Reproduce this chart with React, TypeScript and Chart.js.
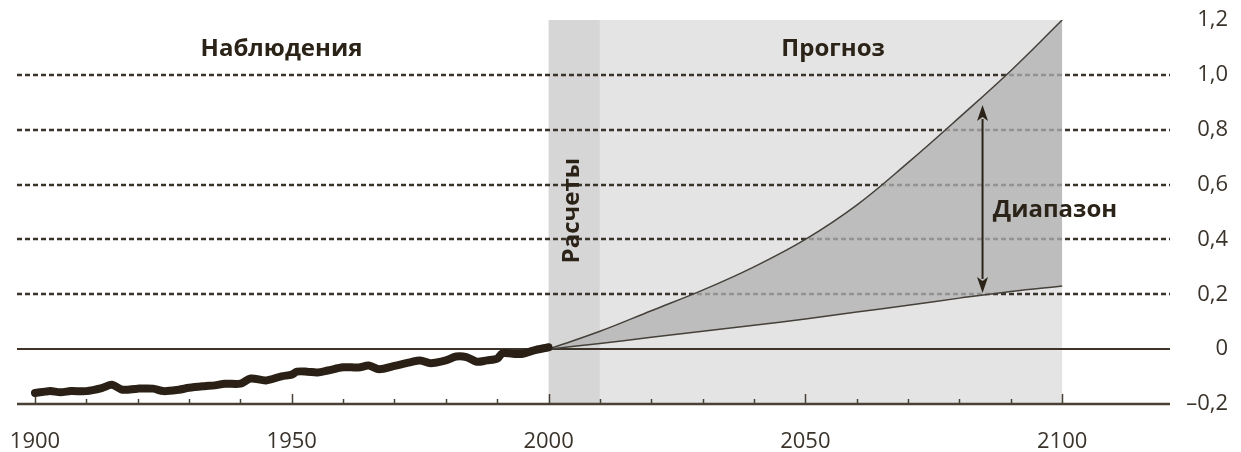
import React, { useEffect, useRef } from 'react';
import { Chart, registerables } from 'chart.js';

Chart.register(...registerables);

// Observed anomaly (°C), 1900–2000
const OBS_YEARS = [
  1900, 1902, 1903, 1905, 1907, 1910, 1913, 1915, 1917, 1920, 1923, 1925, 1928, 1930,
  1933, 1935, 1937, 1940, 1942, 1945, 1948, 1950, 1951, 1953, 1955, 1957, 1960, 1963,
  1965, 1967, 1970, 1973, 1975, 1977, 1980, 1982, 1984, 1986, 1988, 1990, 1991, 1993,
  1995, 1997, 2000,
];
const OBS_VALUES = [
  -0.16, -0.155, -0.153, -0.157, -0.153, -0.153, -0.142, -0.13, -0.148, -0.144, -0.144,
  -0.153, -0.148, -0.141, -0.135, -0.132, -0.126, -0.126, -0.107, -0.114, -0.099, -0.093,
  -0.082, -0.082, -0.085, -0.078, -0.066, -0.067, -0.06, -0.073, -0.061, -0.048, -0.041,
  -0.051, -0.041, -0.027, -0.029, -0.046, -0.041, -0.035, -0.015, -0.017, -0.017, -0.005,
  0.007,
];

// Projection range, 2000–2100
const PROJ_YEARS = [2000, 2010, 2020, 2030, 2040, 2050, 2060, 2070, 2080, 2090, 2100];
const PROJ_HIGH = [0, 0.065, 0.14, 0.215, 0.3, 0.4, 0.525, 0.68, 0.845, 1.015, 1.2];
const PROJ_LOW = [0, 0.021, 0.043, 0.065, 0.087, 0.11, 0.135, 0.16, 0.186, 0.21, 0.23];

// Axes
const X_RANGE = [1896.5, 2121];
const Y_RANGE = [-0.2, 1.2];
const X_TICKS = [1900, 1950, 2000, 2050, 2100];
const X_TICK_LABELS = ['1900', '1950', '2000', '2050', '2100'];
const X_MINOR_TICKS = [1900, 1910, 1920, 1930, 1940, 1950, 1960, 1970, 1980, 1990, 2000,
  2010, 2020, 2030, 2040, 2050, 2060, 2070, 2080, 2090, 2100];
const Y_TICKS = [-0.2, 0, 0.2, 0.4, 0.6, 0.8, 1.0, 1.2];
const Y_TICK_LABELS = ['–0,2', '0', '0,2', '0,4', '0,6', '0,8', '1,0', '1,2'];
const DOTTED_LEVELS = [0.2, 0.4, 0.6, 0.8, 1.0];

// Shaded periods
const PERIOD_FROM = [2000, 2010];
const PERIOD_TO = [2010, 2100];
const PERIOD_COLORS = ['#d6d6d6', '#e4e4e4'];

// Annotations (data units)
const TEXT_LABELS = ['Наблюдения', 'Прогноз', 'Диапазон'];
const TEXT_YEARS = [1948, 2055.4, 2086.5];
const TEXT_VALUES = [1.094, 1.094, 0.506];
const TEXT_ALIGN: CanvasTextAlign[] = ['center', 'center', 'left'];
const ROTATED_LABEL = 'Расчеты';
const ROTATED_YEAR = 2004.6;
const ROTATED_VALUE = 0.505;
const ARROW_YEAR = 2084.5;
const ARROW_FROM = 0.205;
const ARROW_TO = 0.89;

const INK = '#2b2218';
const FONT = "'Open Sans', sans-serif";

const decorPlugin = {
  id: 'decor',
  beforeDatasetsDraw(chart: any) {
    const { ctx, chartArea: ca, scales } = chart;
    const x = scales.x;
    const y = scales.y;
    ctx.save();
    const yTop = y.getPixelForValue(Y_RANGE[1]);
    const yBot = y.getPixelForValue(Y_RANGE[0]);
    PERIOD_FROM.forEach((f, i) => {
      const x0 = x.getPixelForValue(f);
      const x1 = x.getPixelForValue(PERIOD_TO[i]);
      ctx.fillStyle = PERIOD_COLORS[i];
      ctx.fillRect(x0, yTop, x1 - x0, yBot - yTop);
    });
    // dotted grid
    ctx.strokeStyle = '#3a332a';
    ctx.lineWidth = 2.5;
    ctx.setLineDash([5, 3]);
    DOTTED_LEVELS.forEach((v) => {
      const py = Math.round(y.getPixelForValue(v));
      ctx.beginPath();
      ctx.moveTo(ca.left, py);
      ctx.lineTo(ca.right, py);
      ctx.stroke();
    });
    ctx.setLineDash([]);
    // zero line
    const pz = Math.round(y.getPixelForValue(0));
    ctx.strokeStyle = '#3d3329';
    ctx.lineWidth = 2;
    ctx.beginPath();
    ctx.moveTo(ca.left, pz);
    ctx.lineTo(ca.right, pz);
    ctx.stroke();
    // axis line
    const pa = Math.round(yBot);
    ctx.strokeStyle = '#4a4036';
    ctx.lineWidth = 2.5;
    ctx.beginPath();
    ctx.moveTo(ca.left, pa);
    ctx.lineTo(ca.right, pa);
    ctx.stroke();
    // tick marks
    ctx.lineWidth = 1.5;
    X_MINOR_TICKS.forEach((t) => {
      const px = Math.round(x.getPixelForValue(t)) + 0.5;
      const len = t % 50 === 0 ? 10 : 5;
      ctx.beginPath();
      ctx.moveTo(px, pa);
      ctx.lineTo(px, pa - len);
      ctx.stroke();
    });
    ctx.restore();
  },
  afterDatasetsDraw(chart: any) {
    const { ctx, scales } = chart;
    const x = scales.x;
    const y = scales.y;
    ctx.save();
    // arrow
    const ax = x.getPixelForValue(ARROW_YEAR);
    const a0 = y.getPixelForValue(ARROW_FROM);
    const a1 = y.getPixelForValue(ARROW_TO);
    const head = 16;
    const hw = 5.5;
    ctx.strokeStyle = INK;
    ctx.fillStyle = INK;
    ctx.lineWidth = 2;
    ctx.beginPath();
    ctx.moveTo(ax, a1 + head - 2);
    ctx.lineTo(ax, a0 - head + 2);
    ctx.stroke();
    ctx.beginPath();
    ctx.moveTo(ax, a1);
    ctx.lineTo(ax - hw, a1 + head);
    ctx.lineTo(ax, a1 + head - 4);
    ctx.lineTo(ax + hw, a1 + head);
    ctx.closePath();
    ctx.fill();
    ctx.beginPath();
    ctx.moveTo(ax, a0);
    ctx.lineTo(ax - hw, a0 - head);
    ctx.lineTo(ax, a0 - head + 4);
    ctx.lineTo(ax + hw, a0 - head);
    ctx.closePath();
    ctx.fill();
    // texts
    ctx.font = `bold 24px ${FONT}`;
    ctx.textBaseline = 'middle';
    TEXT_LABELS.forEach((t, i) => {
      ctx.textAlign = TEXT_ALIGN[i];
      ctx.fillText(t, x.getPixelForValue(TEXT_YEARS[i]), y.getPixelForValue(TEXT_VALUES[i]));
    });
    ctx.translate(x.getPixelForValue(ROTATED_YEAR), y.getPixelForValue(ROTATED_VALUE));
    ctx.rotate(-Math.PI / 2);
    ctx.textAlign = 'center';
    ctx.fillText(ROTATED_LABEL, 0, 0);
    ctx.restore();
  },
};

export default function App() {
  const ref = useRef<HTMLCanvasElement | null>(null);
  useEffect(() => {
    if (!ref.current) return;
    const chart = new Chart(ref.current, {
      type: 'line',
      data: {
        datasets: [
          {
            label: 'Наблюдения',
            data: OBS_YEARS.map((yr, i) => ({ x: yr, y: OBS_VALUES[i] })),
            borderColor: '#2a2015',
            borderWidth: 8,
            pointRadius: 0,
            tension: 0.3,
            borderCapStyle: 'round',
            borderJoinStyle: 'round',
            fill: false,
            clip: false,
          },
          {
            label: 'Нижняя граница',
            data: PROJ_YEARS.map((yr, i) => ({ x: yr, y: PROJ_LOW[i] })),
            borderColor: '#45403a',
            borderWidth: 1.5,
            pointRadius: 0,
            tension: 0.4,
            fill: false,
          },
          {
            label: 'Верхняя граница',
            data: PROJ_YEARS.map((yr, i) => ({ x: yr, y: PROJ_HIGH[i] })),
            borderColor: '#45403a',
            borderWidth: 1.5,
            pointRadius: 0,
            tension: 0.4,
            fill: '-1',
            backgroundColor: 'rgba(177,177,177,0.77)',
          },
        ],
      } as any,
      options: {
        animation: false,
        responsive: false,
        devicePixelRatio: 1,
        events: [],
        layout: { padding: { left: 17, top: 20, right: 13, bottom: 0 } },
        plugins: { legend: { display: false }, tooltip: { enabled: false } },
        scales: {
          x: {
            type: 'linear',
            position: 'bottom',
            min: X_RANGE[0],
            max: X_RANGE[1],
            grid: { display: false, drawTicks: false },
            border: { display: false },
            afterBuildTicks: (s: any) => {
              s.ticks = X_TICKS.map((v) => ({ value: v }));
            },
            afterFit: (s: any) => {
              s.height = 48;
              s.paddingLeft = 0;
              s.paddingRight = 0;
              s.paddingTop = 0;
              s.paddingBottom = 0;
            },
            ticks: {
              autoSkip: false,
              maxRotation: 0,
              padding: 25,
              color: '#3a332b',
              font: { family: FONT, size: 22 },
              callback: (_v: any, i: number) => X_TICK_LABELS[i],
            },
          },
          y: {
            type: 'linear',
            position: 'right',
            min: Y_RANGE[0],
            max: Y_RANGE[1],
            grid: { display: false, drawTicks: false },
            border: { display: false },
            afterBuildTicks: (s: any) => {
              s.ticks = Y_TICKS.map((v) => ({ value: v }));
            },
            afterFit: (s: any) => {
              s.width = 58;
              s.paddingLeft = 0;
              s.paddingRight = 0;
              s.paddingTop = 0;
              s.paddingBottom = 0;
            },
            ticks: {
              crossAlign: 'far',
              padding: 16,
              color: '#3a332b',
              font: { family: FONT, size: 22 },
              callback: (_v: any, i: number) => Y_TICK_LABELS[i],
            },
          },
        },
      } as any,
      plugins: [decorPlugin],
    });
    return () => chart.destroy();
  }, []);
  return (
    <div style={{ position: 'absolute', left: 0, top: 0, width: 1241, height: 452, background: '#fff' }}>
      <canvas ref={ref} width={1241} height={452} style={{ display: 'block' }} />
    </div>
  );
}
